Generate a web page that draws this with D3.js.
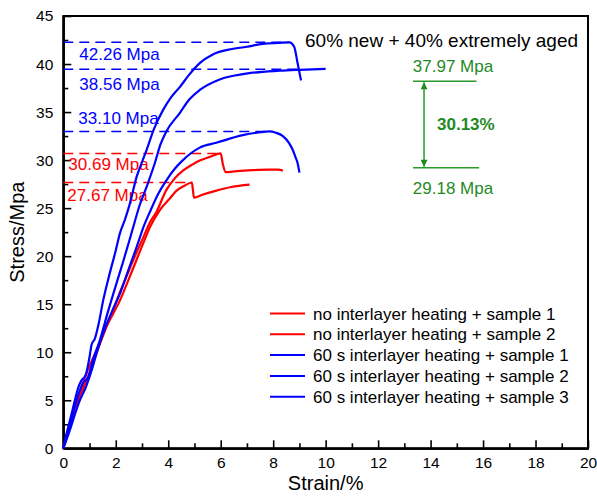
<!DOCTYPE html>
<html>
  <head>
    <meta charset="utf-8">
    <title></title>
    <script src="https://cdn.jsdelivr.net/npm/d3@7/dist/d3.min.js" charset="utf-8"></script>
    <style media="screen">
    body {margin:0;background:#fff;}
    text {font-family:"Liberation Sans", Arial, sans-serif;}
    </style>
    <script>
    // strain (%), stress (MPa)
    var red1=[[0,0],[0.18,1.9],[0.35,3.4],[0.51,4.7],[0.7,5.9],[0.89,7.1],[1.15,9.0],[1.4,10.9],[1.65,12.7],[1.9,14.4],[2.15,16.2],[2.41,17.9],[2.7,19.8],[3.04,21.9],[3.3,23.5],[3.55,24.6],[3.93,26.9],[4.25,28.1],[4.56,28.9],[4.9,29.5],[5.2,29.95],[5.6,30.35],[6.0,30.69],[6.08,29.6],[6.19,28.75],[6.6,28.85],[7.2,28.95],[7.8,29.0],[8.2,29.0],[8.37,28.9]];
    var red2=[[0,0],[0.25,2.3],[0.45,4.1],[0.63,5.7],[0.8,7.2],[0.94,8.2],[1.1,9.2],[1.27,10.2],[1.45,11.4],[1.65,12.7],[1.9,14.0],[2.16,15.4],[2.45,17.3],[2.79,19.6],[3.04,21.3],[3.3,23.0],[3.68,24.8],[4.06,26.0],[4.31,26.8],[4.6,27.3],[4.9,27.67],[4.94,26.9],[4.98,26.1],[5.3,26.4],[5.8,26.8],[6.4,27.2],[7.1,27.45]];
    var blue1=[[0,0],[0.25,1.9],[0.45,3.6],[0.63,5.0],[0.85,6.3],[1.09,8.2],[1.3,10.2],[1.52,12.0],[1.85,14.2],[2.16,16.1],[2.5,18.7],[2.84,21.3],[3.05,23.0],[3.3,24.6],[3.6,26.4],[3.93,27.9],[4.25,29.1],[4.56,30.0],[5.2,31.3],[5.83,31.8],[6.84,32.6],[7.5,32.9],[7.85,32.98],[8.1,32.85],[8.37,32.5],[8.6,31.8],[8.74,31.1],[8.85,30.3],[8.93,29.7],[9.0,28.7]];
    var blue2=[[0,0],[0.2,1.8],[0.37,3.7],[0.55,5.4],[0.75,6.8],[0.95,7.4],[1.13,9.2],[1.4,11.3],[1.7,14.2],[2.03,17.2],[2.3,19.6],[2.6,22.4],[2.91,25.3],[3.2,27.4],[3.49,29.7],[3.7,31.6],[3.93,33.0],[4.44,34.9],[4.8,36.3],[5.2,37.3],[5.96,38.4],[6.97,39.0],[8.24,39.3],[9.0,39.4],[10.0,39.5]];
    var blue3=[[0,0],[0.13,1.6],[0.3,3.4],[0.44,5.0],[0.58,6.4],[0.7,7.1],[0.85,7.6],[1.0,9.5],[1.08,10.8],[1.2,11.4],[1.35,13.0],[1.52,15.4],[1.75,18.0],[2.0,20.6],[2.16,22.4],[2.35,23.8],[2.54,25.5],[2.8,28.3],[3.0,29.8],[3.18,31.1],[3.45,33.2],[3.8,35.2],[4.1,36.5],[4.44,37.6],[4.8,38.9],[5.2,40.1],[5.7,41.0],[6.3,41.5],[7.0,41.8],[7.6,42.1],[8.2,42.2],[8.62,42.26],[8.8,41.8],[8.93,40.1],[9.06,38.3]];

    var seriesNames=['no interlayer heating + sample 1','no interlayer heating + sample 2',
      '60 s interlayer heating + sample 1','60 s interlayer heating + sample 2','60 s interlayer heating + sample 3'];
    var seriesColors=['#ff0000','#ff0000','#0000ff','#0000ff','#0000ff'];

    // dashed peak lines: stress level, strain where it ends, label
    var peakStress=[42.26, 39.45, 32.98, 30.69, 27.67];
    var peakStrain=[8.6, 9.1, 7.85, 5.9, 4.9];
    var peakLabels=['42.26 Mpa','38.56 Mpa','33.10 Mpa','30.69 Mpa','27.67 Mpa'];
    var peakColors=['#0000ff','#0000ff','#0000ff','#ff0000','#ff0000'];

    // green gap annotation
    var gapStress=[38.2, 29.2];
    var gapLabels=['37.97 Mpa','29.18 Mpa'];
    var gapText='30.13%';

    var xTicks=[0,2,4,6,8,10,12,14,16,18,20];
    var yTicks=[0,5,10,15,20,25,30,35,40,45];

    window.onload=function (){
      var svg=d3.select('#svg1');

      var x=d3.scaleLinear().domain([0,20]).range([63.3,588]);
      var y=d3.scaleLinear().domain([0,45]).range([448.3,16]);

      // frame
      svg.append('rect')
      .attr('x', x(0)).attr('y', y(45))
      .attr('width', x(20)-x(0)).attr('height', y(0)-y(45))
      .attr('fill', 'none').attr('stroke', '#000').attr('stroke-width', 2);

      // axes, ticks pointing inward
      svg.append('g').attr('transform', 'translate(0,'+y(0)+')')
      .call(d3.axisBottom(x).tickValues(xTicks).tickSizeInner(-8).tickSizeOuter(0).tickPadding(9));
      svg.append('g').attr('transform', 'translate(0,'+y(0)+')')
      .call(d3.axisBottom(x).tickValues(d3.range(1,20,2)).tickSizeInner(-5).tickSizeOuter(0).tickFormat(''));
      svg.append('g').attr('transform', 'translate('+x(0)+',0)')
      .call(d3.axisLeft(y).tickValues(yTicks).tickSizeInner(-8).tickSizeOuter(0).tickPadding(10));
      svg.append('g').attr('transform', 'translate('+x(0)+',0)')
      .call(d3.axisLeft(y).tickValues(d3.range(2.5,45,5)).tickSizeInner(-5).tickSizeOuter(0).tickFormat(''));
      svg.selectAll('.domain').attr('stroke-width', 2);
      svg.selectAll('.tick line').attr('stroke-width', 1.6);
      svg.selectAll('.tick text').attr('font-size', 15.5).attr('fill', '#000')
      .attr('font-family', '"Liberation Sans", Arial, sans-serif');

      svg.append('text').attr('x', (x(0)+x(20))/2).attr('y', 490)
      .attr('text-anchor', 'middle').attr('font-size', 20).text('Strain/%');
      svg.append('text').attr('transform', 'translate(24,'+(y(0)+y(45))/2+') rotate(-90)')
      .attr('text-anchor', 'middle').attr('font-size', 20).text('Stress/Mpa');

      // dashed peak lines + labels
      var labelDy=[17.5, 20.5, -7.5, 16.5, 18.5];
      var labelX=[x(0)+16, x(0)+16, x(0)+15, x(0)+5, x(0)+4];
      for(var i=0;i<peakStress.length;i++){
        svg.append('line')
        .attr('x1', x(0)).attr('x2', x(peakStrain[i]))
        .attr('y1', y(peakStress[i])).attr('y2', y(peakStress[i]))
        .attr('stroke', peakColors[i]).attr('stroke-width', 1.5)
        .attr('stroke-dasharray', '10,6');
        svg.append('text')
        .attr('x', labelX[i]).attr('y', y(peakStress[i])+labelDy[i])
        .attr('font-size', 17).attr('fill', peakColors[i]).text(peakLabels[i]);
      }

      // curves
      var lineGen=d3.line().x(function (d){return x(d[0]);}).y(function (d){return y(d[1]);})
      .curve(d3.curveMonotoneX);
      var curves=[red1, red2, blue1, blue2, blue3];
      for(var i=0;i<curves.length;i++){
        svg.append('path')
        .attr('d', lineGen(curves[i]))
        .attr('fill', 'none').attr('stroke', seriesColors[i])
        .attr('stroke-width', 2.2).attr('stroke-linejoin', 'round');
      }

      // title
      svg.append('text').attr('x', 305).attr('y', 47)
      .attr('font-size', 19).attr('fill', '#000').text('60% new + 40% extremely aged');

      // green gap annotation
      var green='#2a9a2a';
      svg.append('defs').append('marker')
      .attr('id', 'arr').attr('viewBox', '0 0 10 10').attr('refX', 10).attr('refY', 5)
      .attr('markerWidth', 11).attr('markerHeight', 7).attr('markerUnits', 'userSpaceOnUse')
      .attr('orient', 'auto-start-reverse')
      .append('path').attr('d', 'M0,0L10,5L0,10Z').attr('fill', '#1f8a1f');
      svg.append('line').attr('x1', x(13.33)).attr('x2', x(15.75))
      .attr('y1', y(gapStress[0])).attr('y2', y(gapStress[0]))
      .attr('stroke', green).attr('stroke-width', 1.5);
      svg.append('line').attr('x1', x(13.33)).attr('x2', x(15.85))
      .attr('y1', y(gapStress[1])).attr('y2', y(gapStress[1]))
      .attr('stroke', green).attr('stroke-width', 1.5);
      svg.append('line').attr('x1', x(13.75)).attr('x2', x(13.75))
      .attr('y1', y(gapStress[0])+1).attr('y2', y(gapStress[1])-1)
      .attr('stroke', green).attr('stroke-width', 1.5)
      .attr('marker-start', 'url(#arr)').attr('marker-end', 'url(#arr)');
      svg.append('text').attr('x', 453).attr('y', y(gapStress[0])-9)
      .attr('text-anchor', 'middle').attr('font-size', 17).attr('fill', '#1f8a1f').text(gapLabels[0]);
      svg.append('text').attr('x', 453).attr('y', y(gapStress[1])+26)
      .attr('text-anchor', 'middle').attr('font-size', 17).attr('fill', '#1f8a1f').text(gapLabels[1]);
      svg.append('text').attr('x', 437).attr('y', (y(gapStress[0])+y(gapStress[1]))/2+5)
      .attr('font-size', 17).attr('font-weight', 'bold').attr('fill', '#1f8a1f').text(gapText);

      // legend
      for(var i=0;i<seriesNames.length;i++){
        var ly=313.5+i*20.8;
        svg.append('line').attr('x1', 270).attr('x2', 305).attr('y1', ly).attr('y2', ly)
        .attr('stroke', seriesColors[i]).attr('stroke-width', 2);
        svg.append('text').attr('x', 313).attr('y', ly+6)
        .attr('font-size', 17).attr('fill', '#000').text(seriesNames[i]);
      }
    };
    </script>
  </head>
  <body>
    <svg id="svg1" width="597" height="496"></svg>
  </body>
</html>
